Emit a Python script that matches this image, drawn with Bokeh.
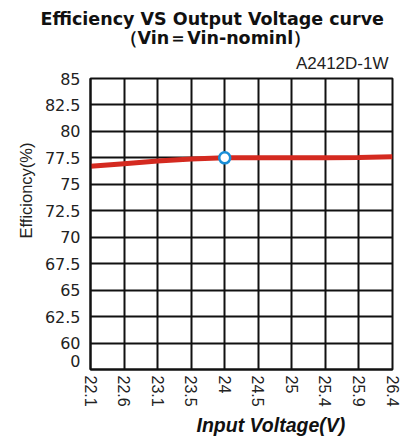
import math
from bokeh.plotting import figure
from bokeh.models import FixedTicker, Range1d, Title
from bokeh.embed import file_html
from bokeh.resources import INLINE

# ---- data ----
vin_labels = ["22.1", "22.6", "23.1", "23.5", "24", "24.5", "25", "25.4", "25.9", "26.4"]
efficiency = [76.7, 76.95, 77.2, 77.4, 77.5, 77.5, 77.5, 77.5, 77.53, 77.6]
y_tick_labels = ["0", "60", "62.5", "65", "67.5", "70", "72.5", "75", "77.5", "80", "82.5", "85"]
marker_index = 4

title_text = "Efficiency VS Output Voltage curve"
subtitle_text = "（Vin＝Vin-nominl）"
model_text = "A2412D-1W"
x_title = "Input Voltage(V)"
y_title = "Efficioncy(%)"


def y_pos(v):
    # broken axis: "0" at the bottom, then 60..85 in 2.5 steps
    return 1 + (v - 60) / 2.5


x_idx = list(range(len(vin_labels)))
y_idx = [y_pos(v) for v in efficiency]

FONT = "Liberation Sans"
TXT = "#222222"

p = figure(width=403, height=438, output_backend="svg", toolbar_location=None, title=None,
           x_range=Range1d(0, len(vin_labels) - 1), y_range=Range1d(0, len(y_tick_labels) - 1),
           min_border_left=90, min_border_right=11, min_border_top=78, min_border_bottom=66)
p.background_fill_color = "white"
p.border_fill_color = "white"
p.outline_line_color = "#111111"
p.outline_line_width = 2

# axes
p.xaxis.ticker = FixedTicker(ticks=x_idx)
p.xaxis.major_label_overrides = {i: s for i, s in zip(x_idx, vin_labels)}
p.xaxis.major_label_orientation = -math.pi / 2
y_ticks = [0.34] + list(range(1, len(y_tick_labels)))
p.yaxis.ticker = FixedTicker(ticks=y_ticks)
p.yaxis.major_label_overrides = {t: s for t, s in zip(y_ticks, y_tick_labels)}
for ax in (p.xaxis[0], p.yaxis[0]):
    ax.major_tick_line_color = None
    ax.minor_tick_line_color = None
    ax.major_tick_out = 0
    ax.major_tick_in = 0
    ax.minor_tick_out = 0
    ax.axis_line_color = "#111111"
    ax.axis_line_width = 2
    ax.major_label_text_color = TXT
p.xaxis.major_label_text_font = FONT
p.xaxis.major_label_text_font_size = "16px"
p.yaxis.major_label_text_font = "DejaVu Sans"
p.yaxis.major_label_text_font_size = "16px"
p.xaxis.major_label_standoff = 6
p.yaxis.major_label_standoff = 10

# grid
p.xgrid.ticker = FixedTicker(ticks=x_idx[1:-1])
p.ygrid.ticker = FixedTicker(ticks=list(range(1, len(y_tick_labels) - 1)))
for g in (p.xgrid[0], p.ygrid[0]):
    g.grid_line_color = "#111111"
    g.grid_line_width = 2

# data
p.line(x_idx, y_idx, line_color="#d42a20", line_width=5)
p.scatter([x_idx[marker_index]], [y_idx[marker_index]], size=11, marker="circle",
          fill_color="white", line_color="#1a8fd8", line_width=2.5)

# texts (panels: first added is closest to the frame)
p.add_layout(Title(text=model_text, align="right", offset=4, standoff=11.5,
                   text_font=FONT, text_font_size="17px", text_font_style="normal",
                   text_line_height=0.95, text_color=TXT), "above")
p.add_layout(Title(text=subtitle_text, align="left", offset=29, standoff=-4,
                   text_font="DejaVu Sans", text_font_size="17.5px", text_font_style="bold",
                   text_color="#111111"), "above")
p.add_layout(Title(text=title_text, align="left", offset=-50, standoff=-3,
                   text_font="DejaVu Sans", text_font_size="17.5px", text_font_style="bold",
                   text_color="#111111"), "above")
p.add_layout(Title(text=y_title, align="left", offset=131, standoff=14,
                   text_font=FONT, text_font_size="16.5px", text_font_style="normal",
                   text_color=TXT), "left")
p.add_layout(Title(text=x_title, align="left", offset=106, standoff=5,
                   text_font=FONT, text_font_size="19.5px", text_font_style="bold italic",
                   text_color="#111111"), "below")

open("out.html", "w").write(file_html(p, INLINE))
